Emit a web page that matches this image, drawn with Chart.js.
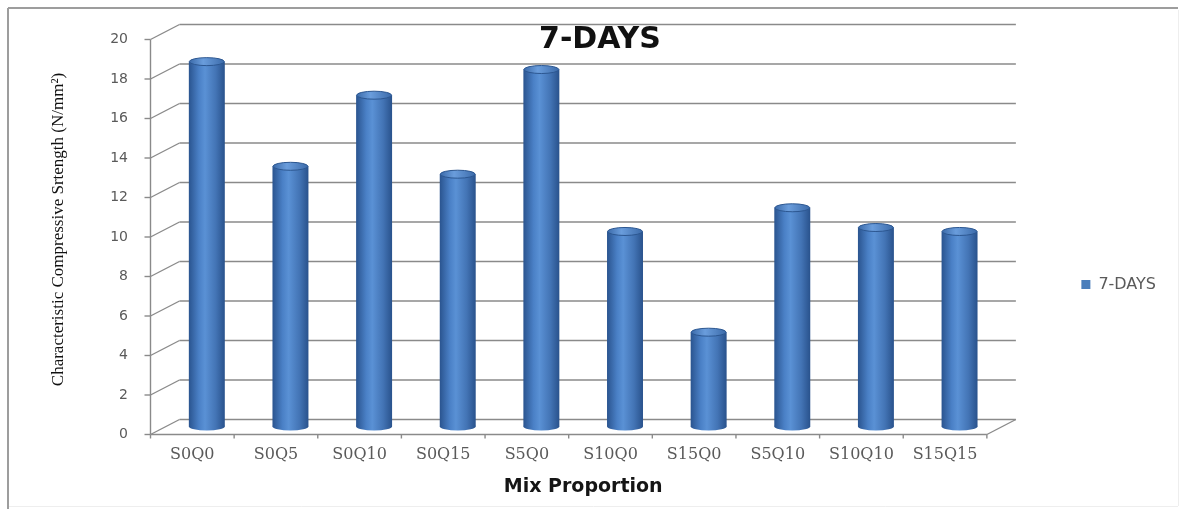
<!DOCTYPE html>
<html>
<head>
<meta charset="utf-8">
<title>7-DAYS</title>
<script src="https://cdn.jsdelivr.net/npm/chart.js@4.4.0/dist/chart.umd.min.js"></script>
<style>
  html, body { margin: 0; padding: 0; background: #ffffff; overflow: hidden; }
  #wrap { position: relative; width: 1184px; height: 509px; }
  canvas { display: block; }
</style>
</head>
<body>
<div id="wrap"><canvas id="chart" width="1184" height="509"></canvas></div>
<script>
// Mix proportions (S = slag %, Q = quarry dust %)
const categories = ['S0Q0', 'S0Q5', 'S0Q10', 'S0Q15', 'S5Q0', 'S10Q0', 'S15Q0', 'S5Q10', 'S10Q10', 'S15Q15'];
// 7-day characteristic compressive strength, N/mm²
const strength7Days = [18.5, 13.2, 16.8, 12.8, 18.1, 9.9, 4.8, 11.1, 10.1, 9.9];
const yTicks = [0, 2, 4, 6, 8, 10, 12, 14, 16, 18, 20];
const seriesName = '7-DAYS';

// pseudo-3D depth: the value plane sits halfway between the front edge and the back wall
const DEPTH_X = 14.5;
const DEPTH_Y = 7.5;
const BAR_PCT = 0.43;
const CAP_RY = 4;
const GRID_COLOR = '#8a8a8a';
const LEGEND_BLUE = '#4a7ebb';

function cylinderGradient(ctx, x0, x1, light) {
  const g = ctx.createLinearGradient(x0, 0, x1, 0);
  if (light) {
    g.addColorStop(0, '#3a69a8');
    g.addColorStop(0.4, '#6a9ddc');
    g.addColorStop(1, '#3b6aa9');
  } else {
    g.addColorStop(0, '#2a548f');
    g.addColorStop(0.28, '#4a80c6');
    g.addColorStop(0.45, '#5a91d5');
    g.addColorStop(0.75, '#4374b5');
    g.addColorStop(1, '#29528c');
  }
  return g;
}

function barFill(context) {
  const chart = context.chart;
  const xs = chart.scales.x;
  if (!chart.chartArea || !xs || context.dataIndex === undefined) return LEGEND_BLUE;
  const cx = xs.getPixelForValue(context.dataIndex);
  const w = xs.width / categories.length * BAR_PCT;
  return cylinderGradient(chart.ctx, cx - w / 2, cx + w / 2, false);
}

function line(c, x0, y0, x1, y1) {
  c.beginPath();
  c.moveTo(x0, y0);
  c.lineTo(x1, y1);
  c.stroke();
}

// outer border of the chart object
const framePlugin = {
  id: 'frame',
  beforeDraw(chart) {
    const c = chart.ctx;
    c.save();
    c.fillStyle = '#ffffff';
    c.fillRect(0, 0, chart.width, chart.height);
    c.strokeStyle = '#9d9d9d';
    c.lineWidth = 2;
    line(c, 8, 8, 1178, 8);
    line(c, 8, 8, 8, chart.height);
    c.strokeStyle = '#eeeeee';
    c.lineWidth = 1;
    line(c, 1178.5, 10, 1178.5, 506);
    line(c, 9, 506.5, 1178, 506.5);
    c.restore();
  }
};

// back wall gridlines, side wall, floor edges and the cylinder caps
const wallPlugin = {
  id: 'wall3d',
  beforeDatasetsDraw(chart) {
    const c = chart.ctx;
    const xs = chart.scales.x;
    const ys = chart.scales.y;
    const a = chart.chartArea;
    const fx = a.left - DEPTH_X;
    const bx = a.left + DEPTH_X;
    const rfx = a.right - DEPTH_X;
    const rbx = a.right + DEPTH_X;
    c.save();
    c.strokeStyle = GRID_COLOR;
    c.lineWidth = 1.4;
    yTicks.forEach(t => {
      const p = ys.getPixelForValue(t);
      line(c, bx, p - DEPTH_Y, rbx, p - DEPTH_Y);
      line(c, fx, p + DEPTH_Y, bx, p - DEPTH_Y);
      line(c, fx - 6, p + DEPTH_Y, fx, p + DEPTH_Y);
    });
    const pTop = ys.getPixelForValue(yTicks[yTicks.length - 1]);
    const p0 = ys.getPixelForValue(0);
    line(c, fx, pTop + DEPTH_Y, fx, p0 + DEPTH_Y);
    line(c, fx, p0 + DEPTH_Y, rfx, p0 + DEPTH_Y);
    line(c, rfx, p0 + DEPTH_Y, rbx, p0 - DEPTH_Y);
    const half = (xs.getPixelForValue(1) - xs.getPixelForValue(0)) / 2;
    for (let i = 0; i <= categories.length; i++) {
      const x = (i < categories.length
        ? xs.getPixelForValue(i) - half
        : xs.getPixelForValue(categories.length - 1) + half) - DEPTH_X;
      line(c, x, p0 + DEPTH_Y, x, p0 + DEPTH_Y + 4);
    }
    // rounded bottoms of the cylinders
    chart.getDatasetMeta(0).data.forEach(bar => {
      const {x, base, width} = bar.getProps(['x', 'base', 'width'], true);
      c.fillStyle = cylinderGradient(c, x - width / 2, x + width / 2, false);
      c.beginPath();
      c.ellipse(x, base, width / 2, CAP_RY, 0, 0, Math.PI * 2);
      c.fill();
    });
    c.restore();
  },
  afterDatasetsDraw(chart) {
    const c = chart.ctx;
    c.save();
    chart.getDatasetMeta(0).data.forEach(bar => {
      const {x, y, width} = bar.getProps(['x', 'y', 'width'], true);
      c.fillStyle = cylinderGradient(c, x - width / 2, x + width / 2, true);
      c.strokeStyle = '#2c5791';
      c.lineWidth = 1;
      c.beginPath();
      c.ellipse(x, y, width / 2 - 0.5, CAP_RY, 0, 0, Math.PI * 2);
      c.fill();
      c.stroke();
    });
    c.restore();
  }
};

const tickGray = '#5a5a5a';

new Chart(document.getElementById('chart'), {
  type: 'bar',
  data: {
    labels: categories,
    datasets: [{
      label: seriesName,
      data: strength7Days,
      backgroundColor: barFill,
      borderWidth: 0,
      barPercentage: BAR_PCT,
      categoryPercentage: 1.0
    }]
  },
  options: {
    responsive: false,
    devicePixelRatio: 1,
    animation: false,
    layout: { padding: { left: 34, right: 18, top: 0, bottom: -60 } },
    plugins: {
      title: {
        display: true,
        text: '7-DAYS',
        color: '#111111',
        font: { family: 'DejaVu Sans', weight: 'bold', size: 30 },
        padding: { top: 22, bottom: -26 }
      },
      legend: {
        display: true,
        position: 'right',
        labels: {
          boxWidth: 9,
          boxHeight: 9,
          padding: 80,
          color: tickGray,
          font: { family: 'DejaVu Sans', size: 16 },
          generateLabels(chart) {
            const items = Chart.defaults.plugins.legend.labels.generateLabels(chart);
            items.forEach(it => {
              it.fillStyle = LEGEND_BLUE;
              it.strokeStyle = LEGEND_BLUE;
              it.lineWidth = 0;
            });
            return items;
          }
        }
      },
      tooltip: { enabled: false }
    },
    scales: {
      x: {
        grid: { display: false, drawTicks: false },
        border: { display: false },
        ticks: {
          color: tickGray,
          font: { family: 'DejaVu Serif', size: 16 },
          padding: 18,
          labelOffset: -DEPTH_X,
          autoSkip: false,
          maxRotation: 0
        },
        title: {
          display: true,
          text: 'Mix Proportion',
          color: '#151515',
          font: { family: 'DejaVu Sans', weight: 'bold', size: 19 },
          padding: { top: 0, bottom: 70.6 }
        },
        afterFit(scale) { scale.height = 142; }
      },
      y: {
        min: 0,
        max: 20,
        grid: {
          display: true,
          drawOnChartArea: false,
          drawTicks: true,
          tickLength: 30,
          color: 'rgba(0,0,0,0)'
        },
        border: { display: false },
        afterBuildTicks(scale) { scale.ticks = yTicks.map(v => ({ value: v })); },
        ticks: {
          color: tickGray,
          font: { family: 'DejaVu Sans', size: 14 },
          padding: 7,
          labelOffset: DEPTH_Y
        },
        title: {
          display: true,
          text: 'Characteristic Compressive Srtength (N/mm²)',
          color: '#111111',
          font: { family: 'Liberation Serif', size: 17 },
          padding: { top: 14, bottom: 0 }
        },
        afterFit(scale) { scale.width = 131; }
      }
    }
  },
  plugins: [framePlugin, wallPlugin]
});
</script>
</body>
</html>
